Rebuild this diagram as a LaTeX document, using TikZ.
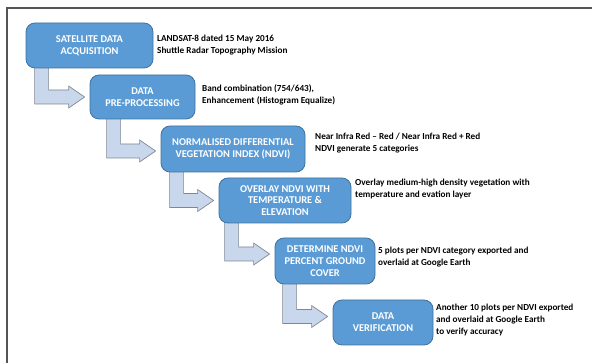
\documentclass[tikz,border=0pt]{standalone}
\usepackage{fontspec}
\setmainfont{Carlito}
\usetikzlibrary{calc,backgrounds}
\definecolor{boxblue}{HTML}{5B9BD5}
\definecolor{boxedge}{HTML}{41719C}
\definecolor{arrfill}{HTML}{C9D7EC}
\definecolor{arredge}{HTML}{7F8794}
\definecolor{framecol}{HTML}{555555}
\newcommand\bentarr[4]{% #1 source, #2 target, #3 shaft offset from source west, #4 vertical shift of head centre
  \path[arrowshape] let \p1=(#1.south west), \p2=(#2.west) in
    ({\x1+#3pt},{\y1+6pt}) -- ({\x1+#3pt},{\y2+#4pt-7pt}) -- ({\x2-21pt},{\y2+#4pt-7pt})
    -- ({\x2-21pt},{\y2+#4pt-11pt}) -- ({\x2-5pt},{\y2+#4pt}) -- ({\x2-21pt},{\y2+#4pt+11pt})
    -- ({\x2-21pt},{\y2+#4pt+7pt}) -- ({\x1+#3pt+14pt},{\y2+#4pt+7pt}) -- ({\x1+#3pt+14pt},{\y1+6pt}) -- cycle;
}
\begin{document}
\begin{tikzpicture}[x=1pt,y=-1pt,
  box/.style={rectangle, rounded corners=9pt, fill=boxblue, draw=boxedge, line width=0.8pt,
    text=white, font=\fontsize{10.4}{11.8}\selectfont\bfseries, align=center, inner sep=2pt},
  side/.style={anchor=west, align=left, font=\fontsize{9.2}{11.8}\selectfont\bfseries, inner sep=0pt, text=black},
  arrowshape/.style={fill=arrfill, draw=arredge, line width=0.7pt, line join=miter}]
\useasboundingbox (0,0) rectangle (592,363);
\coordinate (fbl) at (7,363);
\coordinate (ftl) at (7,8);
\coordinate (ftr) at (592,8);
\draw[framecol, line width=1.2pt] (fbl) -- (ftl) -- (ftr);

\node[box, minimum width=127pt, minimum height=45pt] (b1) at (89.5,45.5) {SATELLITE DATA\\ACQUISITION};
\node[box, minimum width=105pt, minimum height=44pt] (b2) at (142.5,97) {DATA\\PRE-PROCESSING};
\node[box, minimum width=144pt, minimum height=46pt] (b3) at (233,149) {NORMALISED DIFFERENTIAL\\VEGETATION INDEX (NDVI)};
\node[box, minimum width=132pt, minimum height=45pt] (b4) at (285,200.5) {OVERLAY NDVI WITH\\TEMPERATURE \&\\ELEVATION};
\node[box, minimum width=100pt, minimum height=46pt] (b5) at (325,261) {DETERMINE NDVI\\PERCENT GROUND\\COVER};
\node[box, minimum width=100pt, minimum height=45pt] (b6) at (383,322.5) {DATA\\VERIFICATION};

\begin{pgfonlayer}{background}
\bentarr{b1}{b2}{9}{0}
\bentarr{b2}{b3}{17}{-2}
\bentarr{b3}{b4}{9}{0}
\bentarr{b4}{b5}{6}{7}
\bentarr{b5}{b6}{8}{6}
\end{pgfonlayer}

\node[side] (t1) at (157,45) {LANDSAT-8 dated 15 May 2016\\Shuttle Radar Topography Mission};
\node[side] (t2) at (202,95) {Band combination (754/643),\\Enhancement (Histogram Equalize)};
\node[side] (t3) at (315,143) {Near Infra Red -- Red / Near Infra Red + Red\\NDVI generate 5 categories};
\node[side] (t4) at (355,189) {Overlay medium-high density vegetation with\\temperature and evation layer};
\node[side] (t5) at (378,257) {5 plots per NDVI category exported and\\overlaid at Google Earth};
\node[side] (t6) at (436,320) {Another 10 plots per NDVI exported\\and overlaid at Google Earth\\to verify accuracy};
\end{tikzpicture}
\end{document}
